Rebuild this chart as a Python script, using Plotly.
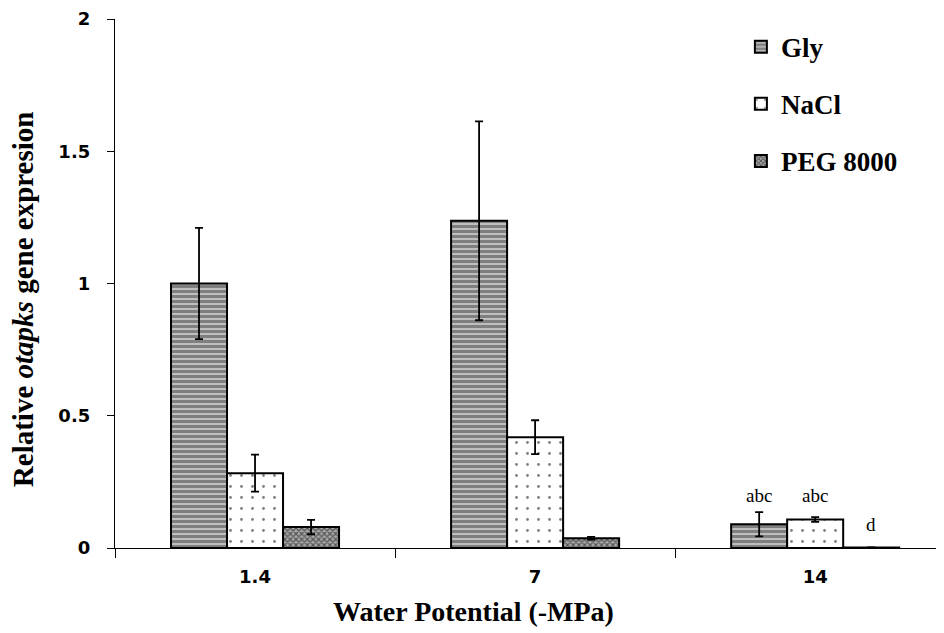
import plotly.graph_objects as go

categories = ["1.4", "7", "14"]
series_names = ["Gly", "NaCl", "PEG 8000"]
gly = [1.0, 1.237, 0.09]
gly_err = [0.21, 0.376, 0.046]
nacl = [0.283, 0.419, 0.108]
nacl_err = [0.07, 0.064, 0.009]
peg = [0.079, 0.037, 0.002]
peg_err = [0.027, 0.005, 0.0]
letters = ["abc", "abc", "d"]
letter_y = [0.2, 0.2, 0.087]
y_ticks = [0, 0.5, 1, 1.5, 2]
y_ticklabels = ["0", "0.5", "1", "1.5", "2"]

values = [gly, nacl, peg]
errors = [gly_err, nacl_err, peg_err]
patterns = [
    dict(shape="-", size=5, solidity=0.8, fgcolor="black", bgcolor="white"),
    dict(shape=".", size=11, solidity=0.05, fgcolor="black", bgcolor="white"),
    dict(shape="x", size=4, solidity=0.5, fgcolor="black", bgcolor="#a8a8a8"),
]

fig = go.Figure()
for name, v, e, p in zip(series_names, values, errors, patterns):
    fig.add_trace(go.Bar(
        x=categories, y=v, name="<b>" + name + "</b>", legendgroup=name,
        marker=dict(color="white", pattern=p, line=dict(color="black", width=2)),
        error_y=dict(type="data", array=e, visible=True, color="black", thickness=1.8, width=4),
    ))

offsets = [-0.2, 0.0, 0.2]
for lt, ly, off in zip(letters, letter_y, offsets):
    fig.add_annotation(x=2 + off, y=ly, xref="x", yref="y", text=lt, showarrow=False,
                       font=dict(family="Liberation Serif", size=19, color="black"))

# axis titles
fig.add_annotation(x=(473 - 115) / 829, y=-0.12, xref="paper", yref="paper",
                   text="<b>Water Potential (-MPa)</b>", showarrow=False,
                   xanchor="center", yanchor="middle",
                   font=dict(family="Liberation Serif", size=28, color="black"))
fig.add_annotation(x=-0.110, y=0.47, xref="paper", yref="paper", textangle=-90,
                   text="<b>Relative <i>otapks</i> gene expresion</b>", showarrow=False,
                   xanchor="center", yanchor="middle",
                   font=dict(family="Liberation Serif", size=29, color="black"))

fig.update_layout(
    width=936, height=625,
    margin=dict(l=107, r=0, t=11, b=85),
    paper_bgcolor="white", plot_bgcolor="white",
    barmode="group", bargap=0.4, bargroupgap=0,
    showlegend=True,
    legend=dict(x=0.755, y=0.993, xanchor="left", yanchor="top",
                font=dict(family="Liberation Serif", size=27, color="black"),
                tracegroupgap=19, bgcolor="rgba(0,0,0,0)"),
    font=dict(family="DejaVu Sans", color="black"),
)
fig.update_xaxes(
    type="category", range=[-0.5, 2.46], automargin=False,
    showline=True, linecolor="black", linewidth=1.3,
    ticks="outside", tickson="boundaries", ticklen=9, tickcolor="black", tickwidth=1.3,
    tickvals=categories, ticktext=["<b>" + c + "</b>" for c in categories],
    ticklabelstandoff=12, ticklabeloverflow="allow",
    tickfont=dict(family="DejaVu Sans", size=18, color="black"),
    showgrid=False, zeroline=False,
)
fig.update_yaxes(
    range=[0, 2], automargin=False,
    tickvals=y_ticks, ticktext=["<b>" + t + "</b>" for t in y_ticklabels],
    showline=True, linecolor="black", linewidth=1.3,
    ticks="outside", ticklen=7, tickcolor="black", tickwidth=1.3,
    ticklabelstandoff=13, ticklabeloverflow="allow",
    tickfont=dict(family="DejaVu Sans", size=18, color="black"),
    showgrid=False, zeroline=False,
)

fig.write_html("out.html")
